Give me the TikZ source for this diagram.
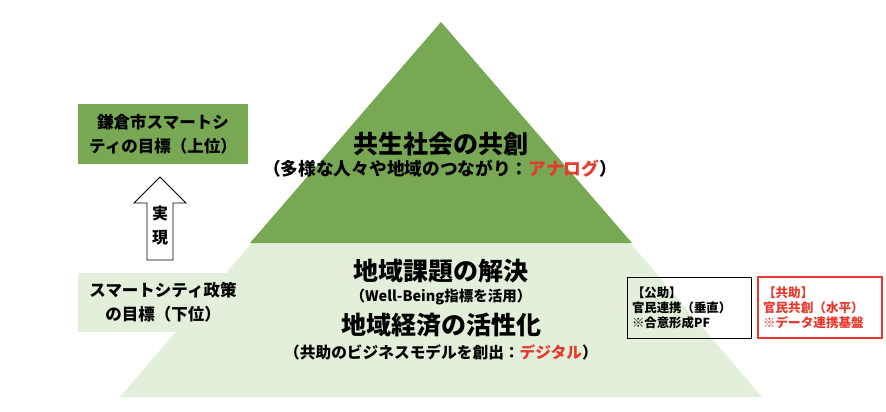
\documentclass[tikz,border=0pt]{standalone}
\usepackage{fontspec}
\setmainfont{Noto Sans CJK JP}
\definecolor{dkgreen}{HTML}{78A854}
\definecolor{ltgreen}{HTML}{E2EFDA}
\definecolor{accred}{HTML}{E53A2F}
\begin{document}
\begin{tikzpicture}[x=1pt,y=-1pt,
  every node/.style={inner sep=0pt},
  goalbox/.style={minimum width=170pt, minimum height=60pt, align=center,
    font=\bfseries\fontsize{16.5}{24}\selectfont},
  bigtitle/.style={font=\bfseries\fontsize{25}{28}\selectfont},
  subtitle/.style={font=\bfseries\fontsize{#1}{20}\selectfont},
  sidebox/.style={minimum width=124pt, minimum height=61pt, align=left,
    text width=114pt, font=\bfseries\fontsize{12.4}{15}\selectfont}]
\useasboundingbox (0,0) rectangle (886,412);
\fill[white] (0,0) rectangle (886,412);
% pyramid
\fill[ltgreen] (120,397) -- (441,22) -- (762,397) -- cycle;
\fill[dkgreen] (250,243) -- (441,22) -- (632,243) -- cycle;
% left boxes
\node[goalbox, fill=dkgreen] (goalup) at (163,134) {鎌倉市スマートシ\\ティの目標（上位）};
\node[goalbox, fill=ltgreen, minimum height=59pt] (goallow) at (163,302.5) {スマートシティ政策\\の目標（下位）};
% block arrow
\draw[line width=0.8pt, fill=white]
  (160,177) -- (186,203) -- (173,203) -- (173,260) -- (147,260) -- (147,203) -- (134,203) -- cycle;
\node[align=center, font=\bfseries\fontsize{16}{24}\selectfont] (realize) at (160,225) {実\\現};
% pyramid texts
\node[bigtitle] (kyosei) at (441,144) {共生社会の共創};
\node[subtitle=17.7] (analog) at (440,169) {（多様な人々や地域のつながり：\textcolor{accred}{アナログ}）};
\node[bigtitle] (kadai) at (441,271) {地域課題の解決};
\node[subtitle=14.5] (wellbeing) at (441,297) {（Well-Being指標を活用）};
\node[bigtitle] (keizai) at (441,325) {地域経済の活性化};
\node[subtitle=15.7] (digital) at (441,352) {（共助のビジネスモデルを創出：\textcolor{accred}{デジタル}）};
% right boxes
\node[sidebox, draw=black, line width=0.8pt, inner xsep=5pt] (kojo) at (689,307.5) {【公助】\\官民連携（垂直）\\※合意形成PF};
\node[sidebox, draw=accred, line width=2.2pt, inner xsep=5pt, text=accred,
  font=\bfseries\fontsize{12.6}{15}\selectfont] (kyojo) at (820,307.5) {【共助】\\官民共創（水平）\\※データ連携基盤};
\end{tikzpicture}
\end{document}
